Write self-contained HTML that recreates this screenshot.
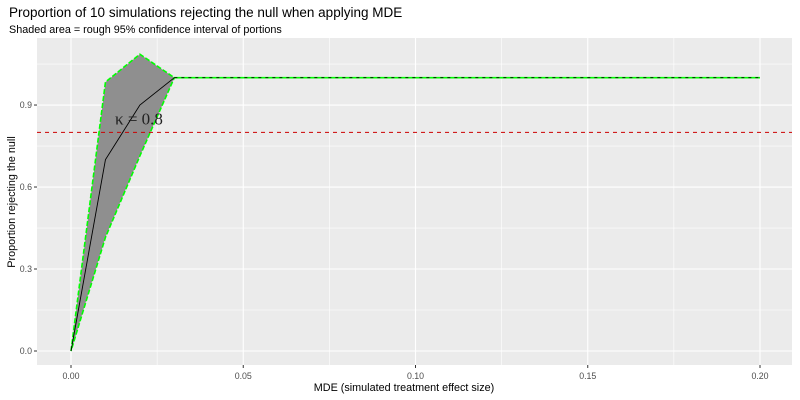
<!DOCTYPE html>
<html><head><meta charset="utf-8"><style>
body{margin:0;background:#fff;font-family:"Liberation Sans",sans-serif}
svg{display:block}
</style></head><body>
<svg width="800" height="400">
<text x="9" y="17" font-size="13.5" fill="#000">Proportion of 10 simulations rejecting the null when applying MDE</text>
<text x="9" y="33" font-size="10.8" fill="#000">Shaded area = rough 95% confidence interval of portions</text>
<rect x="37" y="38" width="755" height="327" fill="#ebebeb"/>
<g id="grid"></g>
<g id="marks"></g>
<g id="axes"></g>
<text x="404" y="391" font-size="10.8" text-anchor="middle">MDE (simulated treatment effect size)</text>
<text transform="translate(15,202) rotate(-90)" font-size="10.8" text-anchor="middle">Proportion rejecting the null</text>
</svg>
<script>
const mde=[0,0.01,0.02,0.03,0.04,0.05,0.06,0.07,0.08,0.09,0.1,0.11,0.12,0.13,0.14,0.15,0.16,0.17,0.18,0.19,0.2];
const prop=[0,0.7,0.9,1,1,1,1,1,1,1,1,1,1,1,1,1,1,1,1,1,1];
const lower=[0,0.416,0.714,1,1,1,1,1,1,1,1,1,1,1,1,1,1,1,1,1,1];
const upper=[0,0.984,1.086,1,1,1,1,1,1,1,1,1,1,1,1,1,1,1,1,1,1];
const xTicks=[0,0.05,0.1,0.15,0.2];
const xTickLabels=["0.00","0.05","0.10","0.15","0.20"];
const yTicks=[0,0.3,0.6,0.9];
const yTickLabels=["0.0","0.3","0.6","0.9"];
const kappa=0.8;
const NS="http://www.w3.org/2000/svg";
const X=v=>71+v*3445, Y=v=>351-v*273.3;
function mk(p,t,a){const e=document.createElementNS(NS,t);for(const k in a)e.setAttribute(k,a[k]);document.getElementById(p).appendChild(e);return e;}
[0.025,0.075,0.125,0.175].forEach(v=>{const e=mk('grid','line',{x1:X(v),x2:X(v),y1:38,y2:365,stroke:'#fff','stroke-width':0.6});

});
[0.15,0.45,0.75,1.05].forEach(v=>{const e=mk('grid','line',{x1:37,x2:792,y1:Y(v),y2:Y(v),stroke:'#fff','stroke-width':0.6});

});
xTicks.forEach((v,i)=>{const e=mk('grid','line',{x1:X(v),x2:X(v),y1:38,y2:365,stroke:'#fff','stroke-width':1.1});


const t=mk('axes','line',{x1:X(v),x2:X(v),y1:365,y2:368,stroke:'#333'});


const l=mk('axes','text',{x:X(v),y:379,'font-size':8.8,fill:'#4d4d4d','text-anchor':'middle'});l.textContent=xTickLabels[i];

});
yTicks.forEach((v,i)=>{const e=mk('grid','line',{x1:37,x2:792,y1:Y(v),y2:Y(v),stroke:'#fff','stroke-width':1.1});


const t=mk('axes','line',{x1:34,x2:37,y1:Y(v),y2:Y(v),stroke:'#333'});


const l=mk('axes','text',{x:32,y:Y(v)+3,'font-size':8.8,fill:'#4d4d4d','text-anchor':'end'});l.textContent=yTickLabels[i];

});
let pts=mde.map((m,i)=>X(m)+','+Y(upper[i])).concat(mde.map((m,i)=>X(m)+','+Y(lower[i])).reverse()).join(' ');
const rib=mk('marks','polygon',{points:pts,fill:'#8f8f8f',stroke:'#00ff00','stroke-width':1.6,'stroke-dasharray':'5 2'});


const mp=mde.slice(0,4).map((m,i)=>X(m)+','+Y(prop[i])).join(' ');
const ln=mk('marks','polyline',{points:mp,fill:'none',stroke:'#000','stroke-width':0.9});


const ln2=mk('marks','polyline',{points:mde.slice(3).map((m,i)=>X(m)+','+Y(prop[i+3])).join(' '),fill:'none',stroke:'#000','stroke-width':0.9,'stroke-dasharray':'3 4'});


const ref=mk('marks','line',{x1:37,x2:792,y1:Y(kappa),y2:Y(kappa),stroke:'#cc0000','stroke-width':1,'stroke-dasharray':'4 4'});


const kt=mk('marks','text',{x:115,y:Y(kappa)-8,'font-size':17,'font-family':'Liberation Serif, serif',fill:'#222'});kt.textContent='κ = 0.8';


</script>
</body></html>
